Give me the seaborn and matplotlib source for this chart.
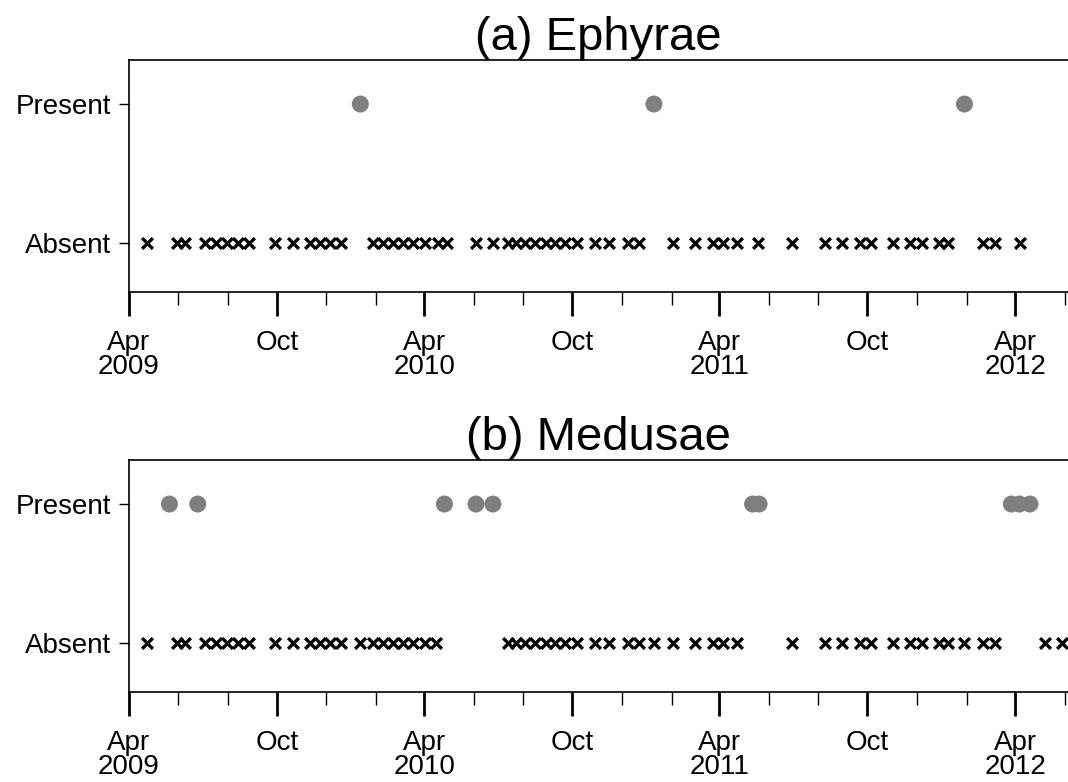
import pandas as pd
import seaborn as sns
import matplotlib
matplotlib.use('Agg')
import matplotlib.pyplot as plt
import matplotlib.dates as mdates

# sampling dates
eph_present = ['2010-01-12', '2011-01-10', '2012-01-29']
eph_absent = ['2009-04-23', '2009-05-30', '2009-06-09', '2009-07-04', '2009-07-18',
              '2009-07-31', '2009-08-14', '2009-08-27', '2009-09-29', '2009-10-21',
              '2009-11-11', '2009-11-23', '2009-12-06', '2009-12-19', '2010-01-28',
              '2010-02-09', '2010-02-22', '2010-03-06', '2010-03-18', '2010-04-02',
              '2010-04-18', '2010-04-29', '2010-06-04', '2010-06-25', '2010-07-14',
              '2010-07-24', '2010-08-04', '2010-08-16', '2010-08-29', '2010-09-10',
              '2010-09-22', '2010-10-07', '2010-10-29', '2010-11-15', '2010-12-09',
              '2010-12-22', '2011-02-03', '2011-03-02', '2011-03-24', '2011-04-06',
              '2011-04-23', '2011-05-19', '2011-06-30', '2011-08-10', '2011-08-31',
              '2011-09-22', '2011-10-05', '2011-11-02', '2011-11-23', '2011-12-08',
              '2011-12-28', '2012-01-09', '2012-02-21', '2012-03-07', '2012-04-07']

med_present = ['2009-05-21', '2009-06-25', '2010-04-26', '2010-06-04', '2010-06-25',
               '2011-05-12', '2011-05-20', '2012-03-27', '2012-04-06', '2012-04-19']
med_absent = ['2009-04-23', '2009-05-30', '2009-06-09', '2009-07-04', '2009-07-18',
              '2009-07-31', '2009-08-14', '2009-08-27', '2009-09-29', '2009-10-21',
              '2009-11-11', '2009-11-23', '2009-12-06', '2009-12-19', '2010-01-12',
              '2010-01-28', '2010-02-09', '2010-02-22', '2010-03-06', '2010-03-18',
              '2010-04-02', '2010-04-15', '2010-07-14', '2010-07-24', '2010-08-04',
              '2010-08-16', '2010-08-29', '2010-09-10', '2010-09-22', '2010-10-07',
              '2010-10-29', '2010-11-15', '2010-12-09', '2010-12-22', '2011-01-10',
              '2011-02-03', '2011-03-02', '2011-03-24', '2011-04-06', '2011-04-23',
              '2011-06-30', '2011-08-10', '2011-08-31', '2011-09-22', '2011-10-05',
              '2011-11-02', '2011-11-23', '2011-12-08', '2011-12-28', '2012-01-09',
              '2012-01-29', '2012-02-21', '2012-03-07', '2012-05-08', '2012-05-29']

status_labels = ['Absent', 'Present']
tick_dates = ['2009-04-01', '2009-10-01', '2010-04-01', '2010-10-01',
              '2011-04-01', '2011-10-01', '2012-04-01']
tick_labels = ['Apr\n2009', 'Oct', 'Apr\n2010', 'Oct', 'Apr\n2011', 'Oct', 'Apr\n2012']

sns.set_style('ticks')
plt.rcParams['font.family'] = ['Liberation Sans', 'DejaVu Sans']
plt.rcParams['text.color'] = 'black'
plt.rcParams['xtick.color'] = 'black'
plt.rcParams['ytick.color'] = 'black'
plt.rcParams['axes.labelcolor'] = 'black'


def make_frame(present, absent):
    df = pd.DataFrame({'date': pd.to_datetime(present + absent),
                       'status': ['Present'] * len(present) + ['Absent'] * len(absent)})
    df['y'] = (df['status'] == 'Present').astype(int)
    return df


fig = plt.figure(figsize=(10.68, 7.82), dpi=100)
W, H = 1068, 782

panels = [('(a) Ephyrae', eph_present, eph_absent, 60),
          ('(b) Medusae', med_present, med_absent, 460)]

for title, present, absent, top in panels:
    ax = fig.add_axes([129 / W, 1 - (top + 232) / H, 1 - 129 / W, 232 / H])
    df = make_frame(present, absent)
    sns.scatterplot(data=df[df.status == 'Absent'], x='date', y='y', marker='x',
                    color='black', s=60, linewidth=2.4, ax=ax, zorder=3)
    sns.scatterplot(data=df[df.status == 'Present'], x='date', y='y', marker='o',
                    color='#7f7f7f', edgecolor='none', s=150, ax=ax, zorder=3)

    ax.set_xlim(pd.Timestamp('2009-04-01'), pd.Timestamp('2012-06-05'))
    ax.set_ylim(-0.353, 1.317)
    ax.set_yticks([0, 1])
    ax.set_yticklabels(status_labels, fontsize=20)
    ax.set_xticks(pd.to_datetime(tick_dates))
    ax.set_xticklabels(tick_labels, fontsize=20, linespacing=0.9)
    ax.xaxis.set_minor_locator(mdates.MonthLocator(bymonth=[2, 6, 8, 12]))
    ax.tick_params(axis='x', which='major', length=17, width=2, pad=10)
    ax.tick_params(axis='x', which='minor', length=9, width=1)
    ax.tick_params(axis='y', length=7, width=1, pad=6)
    ax.set_xlabel('')
    ax.set_ylabel('')
    ax.set_title(title, fontsize=34, pad=1)
    ax.spines['right'].set_visible(False)
    for side in ['left', 'top', 'bottom']:
        ax.spines[side].set_linewidth(1.2)
        ax.spines[side].set_color('black')

fig.savefig('out.png', dpi=100)
